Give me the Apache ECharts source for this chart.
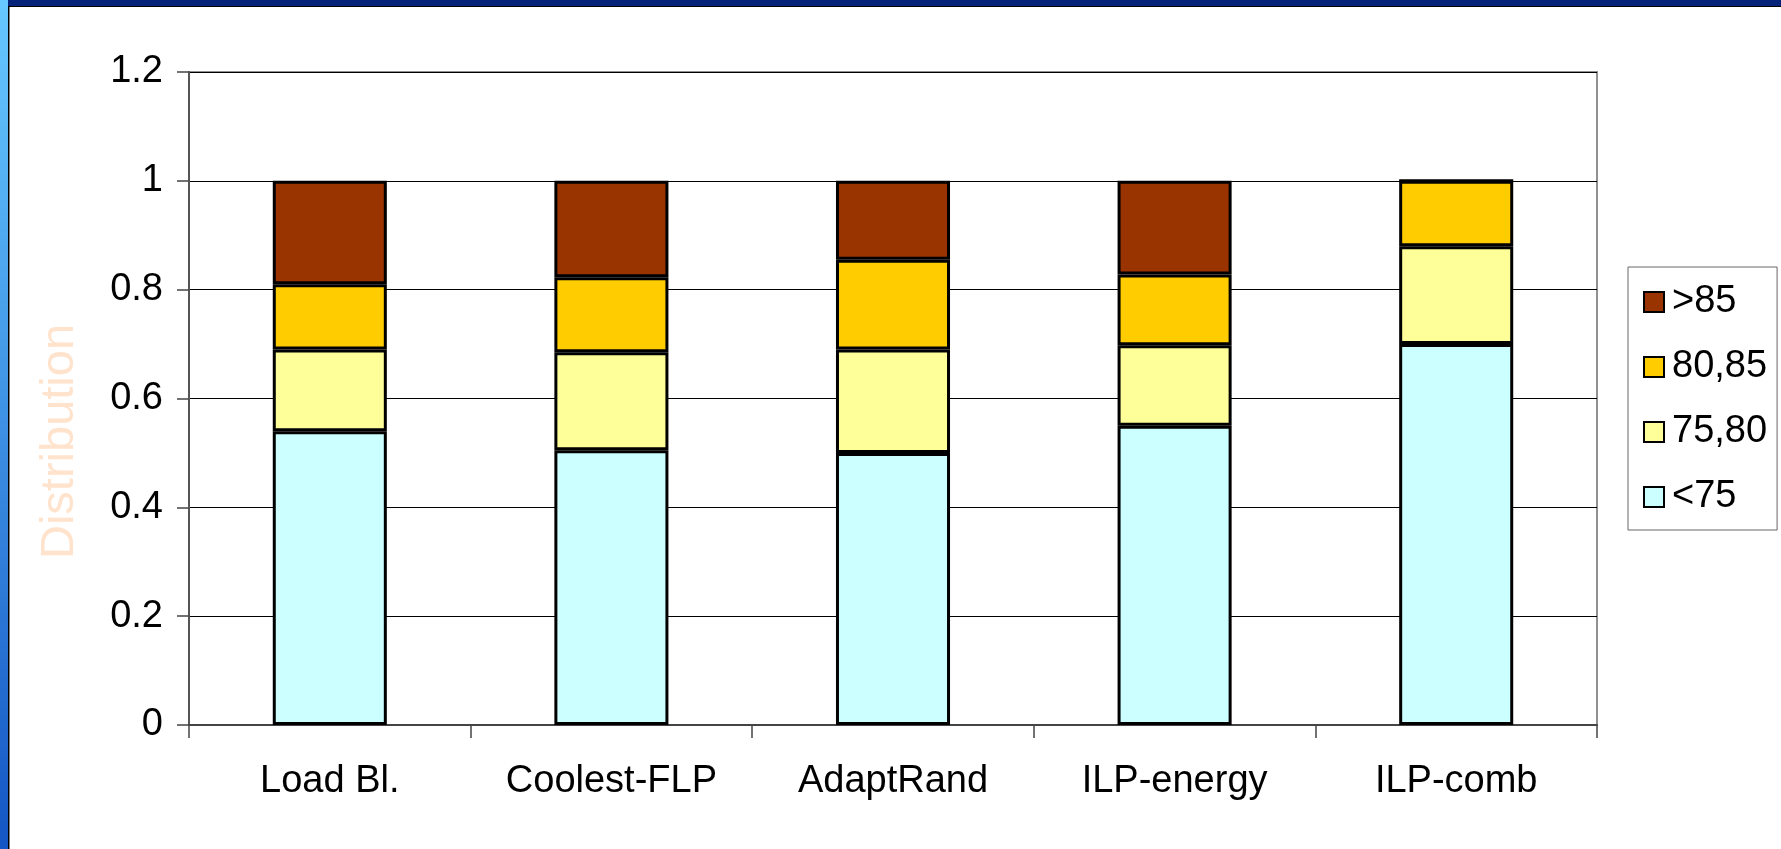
<!DOCTYPE html>
<html>
<head>
<meta charset="utf-8">
<title>Distribution</title>
<script src="https://cdn.jsdelivr.net/npm/echarts@6/dist/echarts.min.js"></script>
<style>
  html, body { margin: 0; padding: 0; background: #ffffff; }
  #chart { width: 1781px; height: 849px; }
</style>
</head>
<body>
<div id="chart"></div>
<script>
// Policies on the x axis
const categories = ['Load Bl.', 'Coolest-FLP', 'AdaptRand', 'ILP-energy', 'ILP-comb'];

// Share of time spent in each temperature band (stacked bottom to top)
const below75 = [0.54, 0.505, 0.50, 0.55, 0.70];
const from75to80 = [0.15, 0.18, 0.19, 0.148, 0.18];
const from80to85 = [0.12, 0.138, 0.165, 0.13, 0.12];
const above85 = [0.19, 0.177, 0.145, 0.172, 0];

const bandNames = ['<75', '75,80', '80,85', '>85'];
const bandColors = ['#CCFFFF', '#FFFF99', '#FFCC00', '#993300'];
const bandValues = [below75, from75to80, from80to85, above85];

const yTicks = [0, 0.2, 0.4, 0.6, 0.8, 1, 1.2];

const chart = echarts.init(document.getElementById('chart'), null, { renderer: 'canvas' });

const font = '"Liberation Sans", Arial, sans-serif';

const series = bandNames.map((name, i) => ({
  name: name,
  type: 'bar',
  stack: 'total',
  barWidth: '40.5%',
  data: bandValues[i],
  itemStyle: {
    color: bandColors[i],
    borderColor: '#000000',
    borderWidth: 3
  },
  emphasis: { disabled: true }
}));

chart.setOption({
  backgroundColor: '#ffffff',
  animation: false,
  textStyle: { fontFamily: font },
  graphic: [
    // slide frame: dark band along the top, light-to-deep blue strip down the left
    {
      type: 'rect', left: 0, top: 0, z: 100,
      shape: { width: 1781, height: 6 },
      style: { fill: '#06237A' }
    },
    {
      type: 'rect', left: 8, top: 6, z: 100,
      shape: { width: 1773, height: 1 },
      style: { fill: '#000000' }
    },
    {
      type: 'rect', left: 0, top: 0, z: 101,
      shape: { width: 8, height: 849 },
      style: {
        fill: new echarts.graphic.LinearGradient(0, 0, 0, 1, [
          { offset: 0, color: '#66C8FF' },
          { offset: 0.35, color: '#4AA2EC' },
          { offset: 1, color: '#1456C4' }
        ])
      }
    },
    {
      type: 'rect', left: 8, top: 6, z: 101,
      shape: { width: 1.5, height: 843 },
      style: { fill: '#000000' }
    }
  ],
  grid: {
    left: 189,
    right: 184,
    top: 72,
    bottom: 124,
    show: true,
    backgroundColor: 'transparent',
    borderColor: '#909090',
    borderWidth: 2
  },
  legend: {
    orient: 'vertical',
    left: 1628,
    top: 267,
    data: ['>85', '80,85', '75,80', '<75'],
    itemWidth: 20,
    itemHeight: 20,
    itemGap: 27,
    padding: [16, 10, 14, 15],
    borderColor: '#666666',
    borderWidth: 1,
    icon: 'rect',
    itemStyle: { borderWidth: 2, borderColor: '#000000' },
    textStyle: {
      fontSize: 38,
      lineHeight: 37,
      color: '#000000',
      fontFamily: font,
      padding: [0, 0, 0, 3]
    },
    selectedMode: false
  },
  xAxis: {
    type: 'category',
    data: categories,
    boundaryGap: true,
    axisLine: { show: true, lineStyle: { color: '#444444', width: 2 } },
    axisTick: { show: true, length: 13, lineStyle: { color: '#444444', width: 1.5 } },
    axisLabel: {
      color: '#000000',
      fontSize: 38,
      fontFamily: font,
      interval: 0,
      margin: 38
    },
    splitLine: { show: false }
  },
  yAxis: {
    type: 'value',
    min: yTicks[0],
    max: yTicks[yTicks.length - 1],
    interval: 0.2,
    name: 'Distribution',
    nameLocation: 'middle',
    nameGap: 105,
    nameRotate: 90,
    nameTextStyle: {
      color: '#FFE3CC',
      fontSize: 47,
      fontFamily: font,
      padding: [0, 86, 0, 0]
    },
    axisLine: { show: true, lineStyle: { color: '#555555', width: 2 } },
    axisTick: { show: true, length: 12, lineStyle: { color: '#444444', width: 1.5 } },
    axisLabel: {
      color: '#000000',
      fontSize: 38,
      fontFamily: font,
      margin: 26,
      formatter: v => String(Math.round(v * 10) / 10)
    },
    splitLine: { show: true, lineStyle: { color: '#000000', width: 1.2 } }
  },
  series: series
});
</script>
</body>
</html>
